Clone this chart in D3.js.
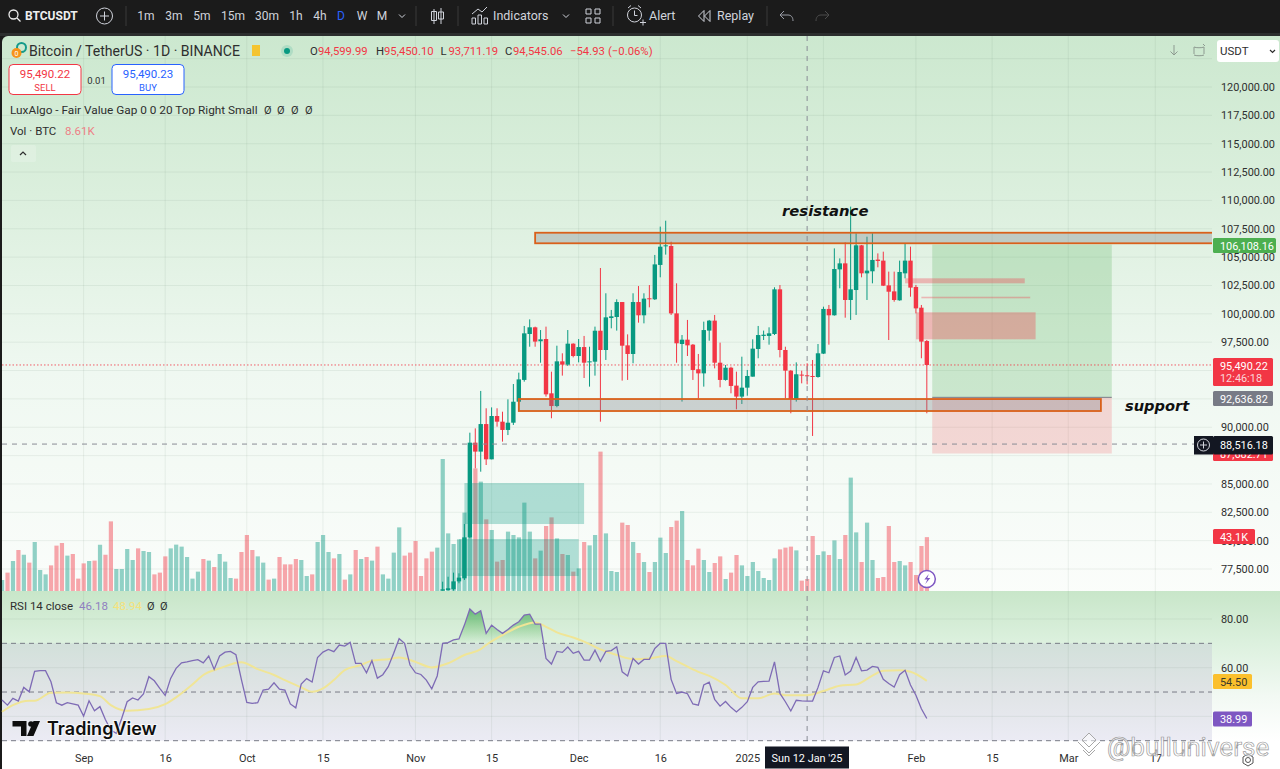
<!DOCTYPE html>
<html lang="en">
<head>
<meta charset="UTF-8">
<title>BTCUSDT 1D</title>
<script src="https://cdnjs.cloudflare.com/ajax/libs/d3/7.8.5/d3.min.js"></script>
<style>
    html, body { margin: 0; padding: 0; background: #1b1b1b; overflow: hidden; }
    svg { display: block; font-family: Roboto, "Liberation Sans", sans-serif; }
</style>
</head>
<body>
<svg id="chart" width="1280" height="769"></svg>
<script>
// first bar of the chart, one bar per day
const firstDay = "2024-08-17";

// volume in K BTC, from the first bar on
const volumes = [
    8.8, 14.7, 24, 32.8, 29, 22.7, 39.2, 16.8, 13.3, 20.5,
    36.3, 38.4, 28.3, 29.6, 9.9, 22.1, 24, 24.3, 37, 29,
    55.7, 17.6, 17.6, 33.6, 24.8, 34.1, 32, 31.2, 13.3, 14.7,
    27.7, 34.1, 37.1, 35.5, 27.2, 9.9, 15.5, 25.6, 24.3, 19.2,
    29.6, 23.5, 10.4, 9.9, 31.2, 44.8, 32.8, 27.7, 22.7, 9.1,
    9.9, 27.2, 21.3, 21.3, 25.6, 24.8, 12, 13.3, 39.2, 44.8,
    31.2, 26.1, 29.6, 9.1, 13.3, 32.8, 25.6, 27.2, 24.3, 35.5,
    13.3, 9.9, 30.7, 50.9, 28.3, 30.7, 40, 12, 26.1, 31.5,
    34.7, 105.6, 46.1, 37.6, 41.3, 62.7, 86.1,
    98.1, 87.5, 57.3, 48.8, 23.5, 24.8, 47.5, 44.8, 42.9, 70.7,
    47.5, 26.1, 32.3, 52, 58.9, 42.1, 29.6, 28.8, 15.5, 18.1,
    39.2, 36.5, 44.8, 111.5, 46.1, 16, 15.2, 54.7, 52.8, 39.2,
    30.4, 23.2, 15.2, 23.2, 42.7, 30.4, 51.2, 56.3, 64, 24.8,
    20.5, 33.9, 24.8, 15.2, 22.4, 27.7, 9.6, 14.7, 28.8, 20.5,
    12, 23.2, 16, 10.4, 8.8, 26.1, 33.3, 34.7, 35.5, 32.5,
    8.3, 9.6, 44, 28.8, 31.7, 28.8, 40.5, 25.6, 44.8, 90.7,
    46.9, 23.2, 54.7, 24.8, 10.4, 11.2, 52, 23.2, 24, 20.5,
    23.2, 12.8, 36, 43.1
];
// g = up day, r = down day
const volumeSides = (
    "grgrgrgggr" + "rrgrrrgrgr" + "rggggrggrr" + "rggggggrgr" +
    "gggrrrrggr" + "grrrrggrgg" + "grgrgrgrgr" + "ggggrrrrrr" +
    "ggggggg" +
    "rgrgrrgggg" + "grgrrgrgrg" + "rggrgggrrg" + "rgrgggrrgr" +
    "rrggrrgrrg" + "ggggggrrrg" + "rrrggrggrg" + "grggrrrrgg" +
    "rrrr"
).split("");

// candles, only the ones inside the price range of the pane
const firstCandle = 81;
const opens = [
    75590, 75650, 75710, 76410, 76680, 80290, 88640, 87850, 90280, 87170,
    90990, 90490, 89760, 90400, 92250, 94170, 98220, 98810, 97580, 97780,
    92990, 91870, 95810, 95520, 97370, 96280, 97070, 95720, 95780, 98510,
    96810, 99630, 99720, 101040, 97220, 96460, 101040, 99870, 101370, 101280,
    104310, 105980, 105980, 100040, 97340, 97720, 97280, 95110, 94750, 98520,
    99400, 95690, 94170, 95250, 93670, 92700, 93490, 94460, 96900, 98050,
    98050, 98220, 102160, 96810, 94990, 92490, 94640, 94580, 94520, 94430,
    96490, 100430, 99870, 103920, 104450, 101220, 102100, 106040, 103570, 103750,
    104780, 104690, 102510, 101980, 101190, 103570, 104690, 102370, 100540, 97600
];
const highs = [
    76380, 76820, 77180, 77120, 81470, 89520, 89900, 93200, 91670, 91750,
    91670, 91370, 92460, 93810, 94810, 98930, 99510, 98870, 98570, 98870,
    94900, 97190, 96520, 98570, 97400, 97780, 98050, 97100, 98870, 104040,
    101810, 100340, 101280, 101040, 98190, 101810, 102450, 101810, 102540, 105190,
    107690, 108210, 106360, 102690, 98130, 99460, 97340, 96460, 99310, 99460,
    99900, 97460, 95490, 95340, 94900, 96220, 95050, 97750, 98930, 98520,
    98810, 102340, 102540, 97100, 95050, 95720, 94990, 95640, 95930, 97340,
    100630, 100780, 105770, 104890, 106300, 109450, 107100, 106070, 106800, 107100,
    105330, 105480, 103720, 103720, 104690, 106220, 105920, 102540, 100780, 97690
];
const lows = [
    75590, 75590, 75590, 76240, 76530, 80200, 86380, 86080, 86670, 87170,
    90050, 88730, 89310, 90200, 91520, 94020, 97100, 97100, 95690, 92700,
    90790, 91760, 94550, 95400, 96160, 95720, 94340, 93580, 94550, 90490,
    95930, 98720, 98520, 94110, 94170, 95640, 99220, 99160, 100570, 101220,
    103220, 105220, 99900, 95690, 92260, 96280, 94170, 92550, 93580, 97630,
    95190, 93520, 94110, 92990, 91580, 92050, 92780, 94460, 96080, 97690,
    97280, 98130, 96160, 92550, 91230, 92260, 93870, 93780, 89230, 94370,
    96460, 97280, 99840, 102250, 99660, 99460, 99900, 103220, 101220, 102690,
    104100, 102450, 97690, 101070, 101160, 103130, 101510, 100040, 96080, 91230
];
const closes = [
    75710, 75800, 76410, 76740, 80290, 88640, 87850, 90280, 87170, 90990,
    90490, 89760, 90400, 92250, 94220, 98280, 98810, 97550, 97750, 92900,
    91870, 95810, 95520, 97370, 96280, 97070, 95690, 95810, 98510, 96810,
    99690, 99780, 101040, 97190, 96460, 101040, 99870, 101340, 101310, 104360,
    105920, 106040, 100040, 97400, 97720, 97220, 95050, 94750, 98570, 99400,
    95690, 94170, 95250, 93640, 92700, 93490, 94520, 96930, 98130, 98160,
    98280, 102160, 96810, 94990, 92490, 94670, 94550, 94520, 94460, 96520,
    100430, 99870, 103950, 104450, 101220, 102160, 106040, 103570, 103810, 104750,
    104660, 102480, 101950, 101220, 103690, 104690, 102310, 100480, 97550, 95490
];

// RSI 14, one value per bar
const rsiValues = [
    46.7, 44.6, 47.4, 46.3, 51.9, 50.1, 58.5, 58.8, 58.8, 54.2,
    45.6, 44.6, 45.6, 45.1, 44.6, 40.1, 46.4, 42.3, 44, 38.7,
    34.4, 33, 39.1, 46, 47.6, 46.7, 49.2, 56.3, 54.6, 51.5,
    48.6, 55.6, 59.7, 62, 62.4, 62.9, 63.3, 62, 64.8, 59.3,
    64.8, 66.4, 66.7, 65.3, 55.2, 45.7, 45.3, 45.6, 50.8, 51.2,
    53.8, 51.2, 50.8, 45.1, 43.5, 53.3, 55.5, 54.1, 64.2, 66.4,
    67.5, 66.6, 69.3, 68.9, 70.4, 61.8, 61.8, 57.9, 62.9, 55.7,
    57.1, 60.4, 65.9, 71.9, 70, 61.1, 57.9, 57.2, 54.9, 51.3,
    56.6, 70, 70.3, 71.4, 71.8, 77.5, 84.1, 82, 83.4, 74.1,
    77.5, 75.7, 74.1, 75.7, 77.5, 78.9, 81.6, 82, 77.9, 77.9,
    63.8, 61.5, 66.7, 66.3, 68.5, 65.9, 66.7, 63.1, 63.1, 67.2,
    62.6, 66.7, 67, 68.6, 58.3, 56.6, 63.8, 61.5, 63.4, 63.4,
    67.9, 70, 70, 55.2, 49.4, 50, 49.3, 45.1, 44.6, 52.9,
    54, 47, 44.2, 46.1, 43.7, 41.8, 43.7, 46, 51.9, 54.2,
    54.4, 54.5, 62.4, 49.4, 46, 42.2, 46.6, 46.4, 46.3, 46.3,
    51.9, 58.7, 57.9, 64.2, 64.8, 57, 58.6, 64.2, 58.7, 59,
    60.5, 60.1, 55.2, 53.5, 52, 57.1, 58.9, 52.9, 48.7, 43.1, 39.1
];
// RSI moving average, read at these bars
const rsiMaBars = [0, 2, 5, 6, 9, 12, 15, 18, 20, 23, 27, 30, 32, 35, 37, 40, 44, 47, 50, 52, 55, 57, 59, 61, 63, 66, 68, 71, 73, 76, 79, 82, 85, 88,
    89, 92, 95, 98, 100, 102, 105, 107, 110, 113, 116, 119, 122, 124, 128, 130, 133, 136, 139, 142, 144, 148, 151, 154, 157, 160, 162, 165, 167, 170];
const rsiMaValues = [41.9, 44.6, 46.4, 46.4, 49.7, 49.8, 49.4, 48.3, 44.6, 42.3, 43, 45, 47.8, 53.1, 57, 59.7, 62.2, 59.4, 57, 54.9, 51.9, 50.1, 51.5, 54.9, 59, 61.1, 62.9, 63.5, 64.2, 62.4, 60.1, 61.8, 65.2, 67.6,
    69.3, 73.4, 76.8, 78.6, 76.8, 74.5, 72.4, 70.7, 67.5, 65.2, 63.5, 63.8, 64.8, 62.7, 58.3, 56.6, 52.9, 47.4, 47.4, 49.4, 48.7, 48.7, 50.4, 52.6, 53.1, 56.7, 58.7, 58.9, 58.3, 54.6];

// axis ticks
const priceTicks = [120000, 117500, 115000, 112500, 110000, 107500, 105000, 102500, 100000, 97500, 90000, 85000, 82500, 80000, 77500];
const priceGrid = [122500, 120000, 117500, 115000, 112500, 110000, 107500, 105000, 102500, 100000, 97500, 95000, 92500, 90000, 87500, 85000, 82500, 80000, 77500];
const rsiTicks = [80, 60];
const rsiGrid = [80, 60, 40];
const rsiBands = [70, 50, 30];
const timeTickDates = ["2024-09-01", "2024-09-16", "2024-10-01", "2024-10-15", "2024-11-01", "2024-11-15", "2024-12-01", "2024-12-16", "2025-01-01", "2025-01-15", "2025-02-01", "2025-02-15", "2025-03-01", "2025-03-17"];
const timeTickLabels = ["Sep", "16", "Oct", "15", "Nov", "15", "Dec", "16", "2025", "", "Feb", "15", "Mar", "17"];

// drawings on the chart: from, to, top price, bottom price
const fvgUp = [
    ["2024-11-10", "2024-12-02", 85080, 81465],
    ["2024-11-09", "2024-12-01", 80143, 76880]
];
const fvgDown = [
    ["2025-01-30", "2025-02-21", 103131, 102690],
    ["2025-02-02", "2025-02-22", 101508, 101367],
    ["2025-02-01", "2025-02-23", 100133, 97752]
];
const resistanceZone = ["2024-11-23", "2025-04-07", 107150, 106220];
const supportZone = ["2024-11-20", "2025-03-07", 92488, 91430];
const longFrom = "2025-02-04", longTo = "2025-03-09";
const targetPrice = 106108.16, entryPrice = 92636.82, stopPrice = 87682.71;
const lastPrice = 95490.22, crossPrice = 88516.18, crossDay = "2025-01-12";

const darkBar = "#1b1b1b";
const upColor = "#089981", downColor = "#f23645";
const textColor = "#2e2e2e";
const axisSize = 10.9;

const paneLeft = 2, paneRight = 1212, priceTop = 36, priceBottom = 591, rsiBottom = 741;

const svg = d3.select("#chart");
const defs = svg.append("defs");

function vGradient(id, stops) {
    const g = defs.append("linearGradient").attr("id", id).attr("x1", 0).attr("x2", 0).attr("y1", 0).attr("y2", 1);
    stops.forEach(s => g.append("stop").attr("offset", s[0]).attr("stop-color", s[1]).attr("stop-opacity", s[2] === undefined ? 1 : s[2]));
    return g;
}
vGradient("priceBg", [[0, "#cce8cf"], [0.28, "#dbefdd"], [0.6, "#eff8f1"], [1, "#fbfdfb"]]);
vGradient("rsiBg", [[0, "#c8e6c9"], [0.36, "#ddf1df"], [0.7, "#f2f9f3"], [1, "#ffffff"]]);
vGradient("bandBg", [[0, "#d2e0da"], [0.5, "#e0e4e6"], [1, "#ebebf4"]]);
defs.append("clipPath").attr("id", "priceClip").append("rect").attr("x", paneLeft).attr("y", priceTop).attr("width", paneRight - paneLeft).attr("height", priceBottom - priceTop);

// scales
const parseDay = d3.utcParse("%Y-%m-%d");
const dayMs = 86400000;
const barDate = i => new Date(parseDay(firstDay).getTime() + i * dayMs);
const x = d3.scaleUtc().domain([parseDay(firstDay), parseDay("2025-03-17")]).range([2, 1155.3]);
const xBar = i => x(barDate(i));
const yPrice = d3.scaleLinear().domain([77500, 120000]).range([569, 87]);
const yVol = d3.scaleLinear().domain([0, 112]).range([591, 451]);
const yRsi = d3.scaleLinear().domain([30, 80]).range([740.7, 619]);

vGradient("rsiFill", [[0, "#3fa75a", 0.75], [0.55, "#4caf50", 0.35], [1, "#4caf50", 0.02]])
    .attr("gradientUnits", "userSpaceOnUse").attr("y1", yRsi(84)).attr("y2", yRsi(70));

// page and pane backgrounds
svg.append("rect").attr("width", 1280).attr("height", 769).attr("fill", darkBar);
svg.append("rect").attr("y", 33).attr("width", 1280).attr("height", 3).attr("fill", "#2c2e2e");
svg.append("rect").attr("x", paneLeft).attr("y", priceTop).attr("width", 1290).attr("height", priceBottom - priceTop + 6).attr("rx", 6).attr("fill", "url(#priceBg)");
svg.append("rect").attr("x", paneLeft).attr("y", priceBottom).attr("width", 1278).attr("height", rsiBottom - priceBottom).attr("fill", "url(#rsiBg)");
svg.append("rect").attr("x", paneLeft).attr("y", rsiBottom).attr("width", 1278).attr("height", 769 - rsiBottom).attr("fill", "#fff");
svg.append("rect").attr("x", paneLeft).attr("y", yRsi(70)).attr("width", paneRight - paneLeft).attr("height", yRsi(30) - yRsi(70)).attr("fill", "url(#bandBg)");

// grid
const grid = svg.append("g").attr("stroke", "#5f7f68").attr("stroke-opacity", 0.1);
grid.selectAll(".vg").data(timeTickDates).join("line")
    .attr("x1", d => x(parseDay(d))).attr("x2", d => x(parseDay(d)))
    .attr("y1", priceTop).attr("y2", rsiBottom);
grid.selectAll(".hg").data(priceGrid).join("line")
    .attr("x1", paneLeft).attr("x2", paneRight).attr("y1", d => yPrice(d)).attr("y2", d => yPrice(d));
grid.selectAll(".rg").data(rsiGrid).join("line")
    .attr("x1", paneLeft).attr("x2", paneRight).attr("y1", d => yRsi(d)).attr("y2", d => yRsi(d));

const chart = svg.append("g").attr("clip-path", "url(#priceClip)");

// volume
chart.append("g").selectAll("rect").data(volumes).join("rect")
    .attr("x", (d, i) => xBar(i) - 2)
    .attr("width", 4.2)
    .attr("y", d => yVol(d))
    .attr("height", d => yVol(0) - yVol(d))
    .attr("fill", (d, i) => volumeSides[i] === "g" ? upColor : downColor)
    .attr("fill-opacity", 0.44);

function drawBox(parent, b, fill, opacity) {
    return parent.append("rect")
        .attr("x", x(parseDay(b[0])))
        .attr("width", x(parseDay(b[1])) - x(parseDay(b[0])))
        .attr("y", yPrice(b[2]))
        .attr("height", yPrice(b[3]) - yPrice(b[2]))
        .attr("fill", fill).attr("fill-opacity", opacity);
}

// fair value gap, up side
fvgUp.forEach(b => drawBox(chart, b, upColor, 0.3));

// long position tool
drawBox(chart, [longFrom, longTo, targetPrice, entryPrice], "#4caf50", 0.23);
drawBox(chart, [longFrom, longTo, entryPrice, stopPrice], downColor, 0.18);
chart.append("line").attr("x1", x(parseDay(longFrom))).attr("x2", x(parseDay(longTo)))
    .attr("y1", yPrice(entryPrice)).attr("y2", yPrice(entryPrice)).attr("stroke", "#787b86");

// fair value gap, down side
fvgDown.forEach(b => drawBox(chart, b, downColor, 0.32));

// last price line
chart.append("line").attr("x1", paneLeft).attr("x2", paneRight).attr("y1", yPrice(lastPrice)).attr("y2", yPrice(lastPrice))
    .attr("stroke", downColor).attr("stroke-opacity", 0.8).attr("stroke-dasharray", "1.5 2");

// candles
const candles = opens.map((o, k) => ({ i: firstCandle + k, o: o, h: highs[k], l: lows[k], c: closes[k] }));
const candle = chart.append("g").selectAll("g").data(candles).join("g")
    .attr("fill", d => d.c >= d.o ? upColor : downColor)
    .attr("stroke", d => d.c >= d.o ? upColor : downColor);
candle.append("line")
    .attr("x1", d => xBar(d.i)).attr("x2", d => xBar(d.i))
    .attr("y1", d => yPrice(d.h)).attr("y2", d => yPrice(d.l))
    .attr("stroke-width", 1);
candle.append("rect")
    .attr("stroke", "none")
    .attr("x", d => xBar(d.i) - 2.2).attr("width", 4.4)
    .attr("y", d => yPrice(Math.max(d.o, d.c)))
    .attr("height", d => Math.max(1, Math.abs(yPrice(d.o) - yPrice(d.c))));

// resistance and support rectangles
[resistanceZone, supportZone].forEach(z => {
    drawBox(chart, z, "#787b86", 0.32).attr("stroke", "#d9601a").attr("stroke-width", 1.8);
});

// crosshair
svg.append("line").attr("x1", paneLeft).attr("x2", paneRight).attr("y1", yPrice(crossPrice)).attr("y2", yPrice(crossPrice))
    .attr("stroke", "#8a8d96").attr("stroke-dasharray", "5 5");
svg.append("line").attr("x1", x(parseDay(crossDay))).attr("x2", x(parseDay(crossDay))).attr("y1", priceTop).attr("y2", rsiBottom)
    .attr("stroke", "#8a8d96").attr("stroke-dasharray", "5 5");

// rsi pane
const rsiArea = d3.area().x((d, i) => xBar(i)).y0(yRsi(70)).y1(d => yRsi(d));
defs.append("clipPath").attr("id", "obClip").append("rect").attr("x", paneLeft).attr("y", priceBottom).attr("width", paneRight).attr("height", yRsi(70) - priceBottom);
svg.append("path").datum(rsiValues).attr("d", rsiArea).attr("fill", "url(#rsiFill)").attr("clip-path", "url(#obClip)");
svg.append("g").selectAll("line").data(rsiBands).join("line")
    .attr("x1", paneLeft).attr("x2", paneRight).attr("y1", d => yRsi(d)).attr("y2", d => yRsi(d))
    .attr("stroke", "#787b86").attr("stroke-dasharray", "5 4");
svg.append("path").datum(rsiMaBars.map((b, k) => [b, rsiMaValues[k]]))
    .attr("d", d3.line().x(d => xBar(d[0])).y(d => yRsi(d[1])).curve(d3.curveMonotoneX))
    .attr("fill", "none").attr("stroke", "#f0e596").attr("stroke-width", 2);
svg.append("path").datum(rsiValues)
    .attr("d", d3.line().x((d, i) => xBar(i)).y(d => yRsi(d)))
    .attr("fill", "none").attr("stroke", "#7e6bb5").attr("stroke-width", 1.3);

// axes
function styleAxis(g) {
    g.select(".domain").remove();
    g.selectAll("line").remove();
    g.attr("font-family", null).attr("font-size", axisSize);
    g.selectAll("text").attr("fill", textColor);
}
svg.append("g").attr("transform", "translate(1221,0)")
    .call(d3.axisRight(yPrice).tickValues(priceTicks).tickFormat(d3.format(",.2f")).tickSize(0).tickPadding(0))
    .call(styleAxis);
svg.append("g").attr("transform", "translate(1221,0)")
    .call(d3.axisRight(yRsi).tickValues(rsiTicks).tickFormat(d3.format(".2f")).tickSize(0).tickPadding(0))
    .call(styleAxis);
svg.append("g").attr("transform", `translate(0,${rsiBottom})`)
    .call(d3.axisBottom(x).tickValues(timeTickDates.map(parseDay)).tickFormat((d, i) => timeTickLabels[i]).tickSize(0).tickPadding(13))
    .call(styleAxis);

// text helper
function txt(str, px, py, color, size, extra) {
    const t = svg.append("text").attr("x", px).attr("y", py).attr("fill", color).attr("font-size", size).text(str);
    if (extra) Object.keys(extra).forEach(k => t.attr(k, extra[k]));
    return t;
}
function tag(px, py, w, h, fill, str, color) {
    svg.append("rect").attr("x", px).attr("y", py).attr("width", w).attr("height", h).attr("rx", 1.5).attr("fill", fill);
    txt(str, px + 7, py + h / 2 + 4, color || "#fff", axisSize);
}

// price axis tags
tag(1213, 446.5, 60, 14.5, downColor, d3.format(",.2f")(stopPrice));
tag(1213, 238, 63, 15, "#4caf50", d3.format(",.2f")(targetPrice));
svg.append("rect").attr("x", 1213).attr("y", 358).attr("width", 60).attr("height", 28).attr("rx", 1.5).attr("fill", downColor);
txt(d3.format(",.2f")(lastPrice), 1220, 369.5, "#fff", axisSize);
txt("12:46:18", 1220, 381.5, "#fbd5d8", axisSize);
tag(1213, 391, 60, 15, "#787b86", d3.format(",.2f")(entryPrice));
tag(1213, 436, 60, 18.5, "#131722", d3.format(",.2f")(crossPrice));
tag(1213, 529, 42, 15, downColor, "43.1K");
tag(1213, 674, 39, 15, "#fbc02d", "54.50", "#3a3a2a");
tag(1213, 711.5, 39, 15, "#7e57c2", "38.99");

// plus button next to crosshair tag
svg.append("rect").attr("x", 1194).attr("y", 436).attr("width", 19).attr("height", 18.5).attr("fill", "#131722");
svg.append("circle").attr("cx", 1203.5).attr("cy", 445).attr("r", 6).attr("fill", "none").attr("stroke", "#d1d4dc");
svg.append("path").attr("d", "M1200 445h7M1203.5 441.5v7").attr("stroke", "#d1d4dc");

// crosshair time tag
svg.append("rect").attr("x", 765).attr("y", 746.5).attr("width", 84).attr("height", 22).attr("fill", "#131722");
txt("Sun 12 Jan '25", 807, 762, "#fff", axisSize, { "text-anchor": "middle" });

// annotations
const noteStyle = { "font-family": "DejaVu Sans", "font-weight": "bold", "font-style": "italic" };
txt("resistance", 782, 216, "#111", 14.8, noteStyle);
txt("support", 1125, 411, "#111", 14.6, noteStyle);

// lightning mark on the last bar
svg.append("circle").attr("cx", xBar(170)).attr("cy", 579).attr("r", 8.5).attr("fill", "#fff").attr("stroke", "#7e57c2").attr("stroke-width", 1.5);
svg.append("path").attr("d", `M${xBar(170) + 2} 574l-4.5 5.5h3l-2 4.5 5-6h-3z`).attr("fill", "#7e57c2");

// toolbar
const barText = "#d1d4dc";
svg.append("circle").attr("cx", 13.5).attr("cy", 14.5).attr("r", 4.5).attr("fill", "none").attr("stroke", "#eee").attr("stroke-width", 1.3);
svg.append("path").attr("d", "M17 18l3.5 3.5").attr("stroke", "#eee").attr("stroke-width", 1.3);
txt("BTCUSDT", 25, 20, "#eee", 12, { "font-weight": "bold" });
svg.append("circle").attr("cx", 104.5).attr("cy", 16).attr("r", 8).attr("fill", "none").attr("stroke", barText);
svg.append("path").attr("d", "M100 16h9M104.5 11.5v9").attr("stroke", barText);
[126, 416, 458, 613, 767].forEach(sx => svg.append("line").attr("x1", sx).attr("x2", sx).attr("y1", 6).attr("y2", 26).attr("stroke", "#3a3a3a"));
const intervals = ["1m", "3m", "5m", "15m", "30m", "1h", "4h", "D", "W", "M"];
const intervalX = [146, 174, 202, 233, 267, 296, 320, 341, 362, 382];
intervals.forEach((s, k) => txt(s, intervalX[k], 20, s === "D" ? "#2962ff" : barText, 12, { "text-anchor": "middle" }));
svg.append("path").attr("d", "M399 14.5l3 3 3-3M563 14.5l3 3 3-3").attr("fill", "none").attr("stroke", barText);
// candle icon
svg.append("path").attr("d", "M434 9v15M434 11.5h-2.5v9h5v-9zM441 8v16M441 12h-2.5v7h5v-7z").attr("fill", "none").attr("stroke", barText);
// indicators icon
svg.append("path").attr("d", "M472 24v-6h3.5v6zM478 24v-9h3.5v9zM484 24v-6h3.5v6zM472 14l6-5 4 3 5-5").attr("fill", "none").attr("stroke", barText);
txt("Indicators", 493, 20, barText, 12.5);
// layout icon
svg.append("path").attr("d", "M586 9h5v5h-5zM595 9h5v5h-5zM586 18h5v5h-5zM595 18h5v5h-5z").attr("fill", "none").attr("stroke", barText);
// alert icon
svg.append("circle").attr("cx", 634.5).attr("cy", 15).attr("r", 7).attr("fill", "none").attr("stroke", barText);
svg.append("path").attr("d", "M634.5 10.5v5h3M628 8l3-2.5M641 8l-3-2.5M640 22.5h6M643 19.5v6").attr("fill", "none").attr("stroke", barText);
txt("Alert", 649, 20, barText, 12.5);
// replay icon
svg.append("path").attr("d", "M704 10.5l-5.5 5.5 5.5 5.5zM710 10.5l-5.5 5.5 5.5 5.5z").attr("fill", "none").attr("stroke", barText);
txt("Replay", 717, 20, barText, 12.5);
// undo, redo
svg.append("path").attr("d", "M784 11l-4 4 4 4M780 15h8c3 0 5 2 5 6").attr("fill", "none").attr("stroke", "#9a9da6");
svg.append("path").attr("d", "M825 11l4 4-4 4M829 15h-8c-3 0-5 2-5 6").attr("fill", "none").attr("stroke", "#4c4c4c");

// legend
svg.append("circle").attr("cx", 21.5).attr("cy", 47.5).attr("r", 4.5).attr("fill", "none").attr("stroke", "#149a8a").attr("stroke-width", 2);
svg.append("circle").attr("cx", 16.5).attr("cy", 53).attr("r", 5).attr("fill", "#f7931a");
txt("0", 14.6, 56, "#fff", 7);
txt("Bitcoin / TetherUS · 1D · BINANCE", 29, 56, textColor, 14.1);
svg.append("rect").attr("x", 252).attr("y", 45).attr("width", 8).attr("height", 11).attr("fill", "#f4c430");
svg.append("circle").attr("cx", 287).attr("cy", 51).attr("r", 6).attr("fill", "#089981").attr("fill-opacity", 0.15);
svg.append("circle").attr("cx", 287).attr("cy", 51).attr("r", 3).attr("fill", "#089981");
const ohlcLetters = [["O", 310, "94,599.99"], ["H", 376, "95,450.10"], ["L", 440.5, "93,711.19"], ["C", 505, "94,545.06"]];
ohlcLetters.forEach(d => {
    txt(d[0], d[1], 55, textColor, 11.3);
    txt(d[2], d[1] + 8, 55, downColor, 11.3);
});
txt("−54.93", 570, 55, downColor, 11.3);
txt("(−0.06%)", 608, 55, downColor, 11.3);

// sell and buy boxes
[[9, downColor, "95,490.22", "SELL"], [112, "#2962ff", "95,490.23", "BUY"]].forEach(d => {
    svg.append("rect").attr("x", d[0]).attr("y", 64.5).attr("width", 72).attr("height", 30).attr("rx", 4).attr("fill", "#fff").attr("stroke", d[1]);
    txt(d[2], d[0] + 36, 78, d[1], 11.5, { "text-anchor": "middle" });
    txt(d[3], d[0] + 36, 90.5, d[1], 9.5, { "text-anchor": "middle" });
});
txt("0.01", 96.5, 83.5, textColor, 9.5, { "text-anchor": "middle" });

txt("LuxAlgo - Fair Value Gap 0 0 20 Top Right Small", 10, 114, textColor, 11.8);
[264, 277, 291, 305].forEach(px => txt("Ø", px, 114, textColor, 11));
txt("Vol · BTC", 10, 135, textColor, 11.5);
txt("8.61K", 65, 135, "#ee7f86", 11.5);
svg.append("rect").attr("x", 11).attr("y", 145).attr("width", 25).attr("height", 17).attr("rx", 2).attr("fill", "#fff").attr("fill-opacity", 0.2);
svg.append("path").attr("d", "M20 155l3-3 3 3").attr("fill", "none").attr("stroke", textColor).attr("stroke-width", 1.2);

txt("RSI 14 close", 10, 610, textColor, 11.5);
txt("46.18", 79, 610, "#8f7fc0", 11.5);
txt("48.94", 113, 610, "#f5e27a", 11.5);
txt("Ø", 147, 610, textColor, 11);
txt("Ø", 160, 610, textColor, 11);

// right top controls
svg.append("path").attr("d", "M1174 45v10M1170.5 51.5l3.5 3.5 3.5-3.5").attr("fill", "none").attr("stroke", "#8d9a90");
svg.append("path").attr("d", "M1194 47c2 1 8 1 10 0M1194 47v7M1204 47v7M1194 55c2 1 8 1 10 0M1203 44l2 2").attr("fill", "none").attr("stroke", "#8d9a90");
svg.append("rect").attr("x", 1217).attr("y", 40).attr("width", 62).attr("height", 22).attr("rx", 3).attr("fill", "#fff");
txt("USDT", 1220, 55, textColor, 11.5);
svg.append("path").attr("d", "M1270 50l2.5 2.5 2.5-2.5").attr("fill", "none").attr("stroke", textColor).attr("stroke-width", 1.2);

// TradingView logo
const logo = svg.append("g").attr("transform", "translate(12.5,720)").attr("fill", "#0e0e0e");
logo.append("path").attr("d", "M0 1h14v15h-5.5V6.5H0zM21 1h6.5L21 16h-6.5z");
logo.append("circle").attr("cx", 18.5).attr("cy", 4).attr("r", 2.8);
txt("TradingView", 47, 734.5, "#0e0e0e", 18, { "font-weight": 600, "font-family": "Inter, Roboto", "stroke": "#fff", "stroke-width": 2, "paint-order": "stroke", "stroke-opacity": 0.7 });

// gear under the axis
svg.append("circle").attr("cx", 1248).attr("cy", 760).attr("r", 2.5).attr("fill", "none").attr("stroke", "#555");
svg.append("path").attr("d", "M1243 757l5-3 5 3v6l-5 3-5-3z").attr("fill", "none").attr("stroke", "#555");

// watermark
svg.append("path").attr("d", "M1089 733l7 7-7 7-7-7zM1078 742l11 11 11-11M1083 750l6 6 6-6").attr("fill", "#fff").attr("fill-opacity", 0.5).attr("stroke", "#a8a8a8");
txt("@bulluniverse", 1107, 756, "#fff", 26, { "stroke": "#9a9a9a", "stroke-width": 0.7, "fill-opacity": 0.55 });
</script>
</body>
</html>
